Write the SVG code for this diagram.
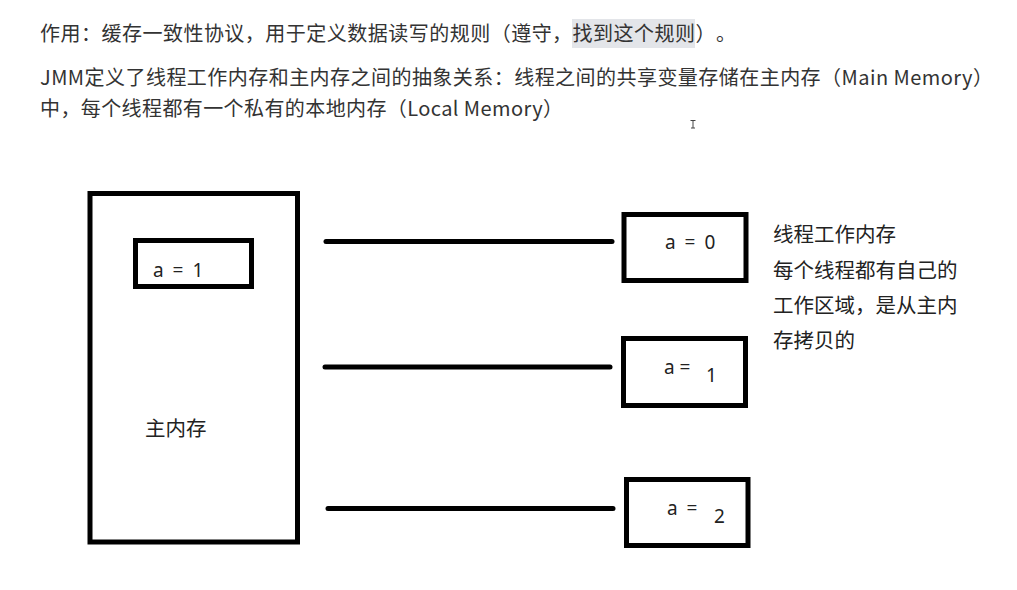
<svg xmlns="http://www.w3.org/2000/svg" width="1017" height="590" viewBox="0 0 1017 590">
  <style>
    .txt { font-family: "Noto Sans CJK SC", "Noto Sans", sans-serif; fill: #333333; text-spacing-trim: space-all; }
    .top { font-size: 20px; }
    .lbl { font-family: "Noto Sans", "Noto Sans CJK SC", sans-serif; font-size: 19px; fill: #222222; word-spacing: 4px; }
    .cjk { font-family: "Noto Sans CJK SC", sans-serif; font-size: 20.5px; fill: #222222; }
    .box { fill: none; stroke: #000000; stroke-width: 5; }
    .conn { stroke: #000000; stroke-width: 5; stroke-linecap: round; }
  </style>
  <rect width="1017" height="590" fill="#ffffff"/>
  <g id="header">
    <rect x="572" y="19" width="123" height="29" fill="#e3e5e9"/>
    <text class="txt top" x="40" y="41" textLength="696">作用：缓存一致性协议，用于定义数据读写的规则（遵守，找到这个规则）。</text>
    <text class="txt top" x="40" y="85" textLength="953">JMM定义了线程工作内存和主内存之间的抽象关系：线程之间的共享变量存储在主内存（Main Memory）</text>
    <text class="txt top" x="40" y="116" textLength="523">中，每个线程都有一个私有的本地内存（Local Memory）</text>
    <path d="M690.5 120.5h5M693 120.5v7.5M691 128h4" stroke="#444" stroke-width="1" fill="none"/>
  </g>
  <g id="main-memory">
    <rect class="box" x="90" y="193.5" width="207.5" height="348.5"/>
    <text class="cjk" x="145" y="436" font-size="21">主内存</text>
  </g>
  <g id="main-var">
    <rect class="box" x="135.5" y="240.5" width="116" height="46"/>
    <text class="lbl" x="153" y="277">a = 1</text>
  </g>
  <g id="connectors">
    <line class="conn" x1="326" y1="241.5" x2="612" y2="241.5"/>
    <line class="conn" x1="325" y1="367" x2="610" y2="367"/>
    <line class="conn" x1="328" y1="508.5" x2="613" y2="508.5"/>
  </g>
  <g id="thread-1">
    <rect class="box" x="624" y="214.5" width="122" height="66"/>
    <text class="lbl" x="665" y="249" font-size="18.5">a = 0</text>
  </g>
  <g id="thread-2">
    <rect class="box" x="623.5" y="338.5" width="122" height="67"/>
    <text class="lbl" x="664" y="374" style="word-spacing:0">a =</text>
    <text class="lbl" x="706" y="382">1</text>
  </g>
  <g id="thread-3">
    <rect class="box" x="626.5" y="479.5" width="121.5" height="66"/>
    <text class="lbl" x="667" y="515">a =</text>
    <text class="lbl" x="714" y="523" font-size="21">2</text>
  </g>
  <g id="note">
    <text class="cjk" x="773" y="242">线程工作内存</text>
    <text class="cjk" x="773" y="278">每个线程都有自己的</text>
    <text class="cjk" x="773" y="313">工作区域，是从主内</text>
    <text class="cjk" x="773" y="348">存拷贝的</text>
  </g>
</svg>
